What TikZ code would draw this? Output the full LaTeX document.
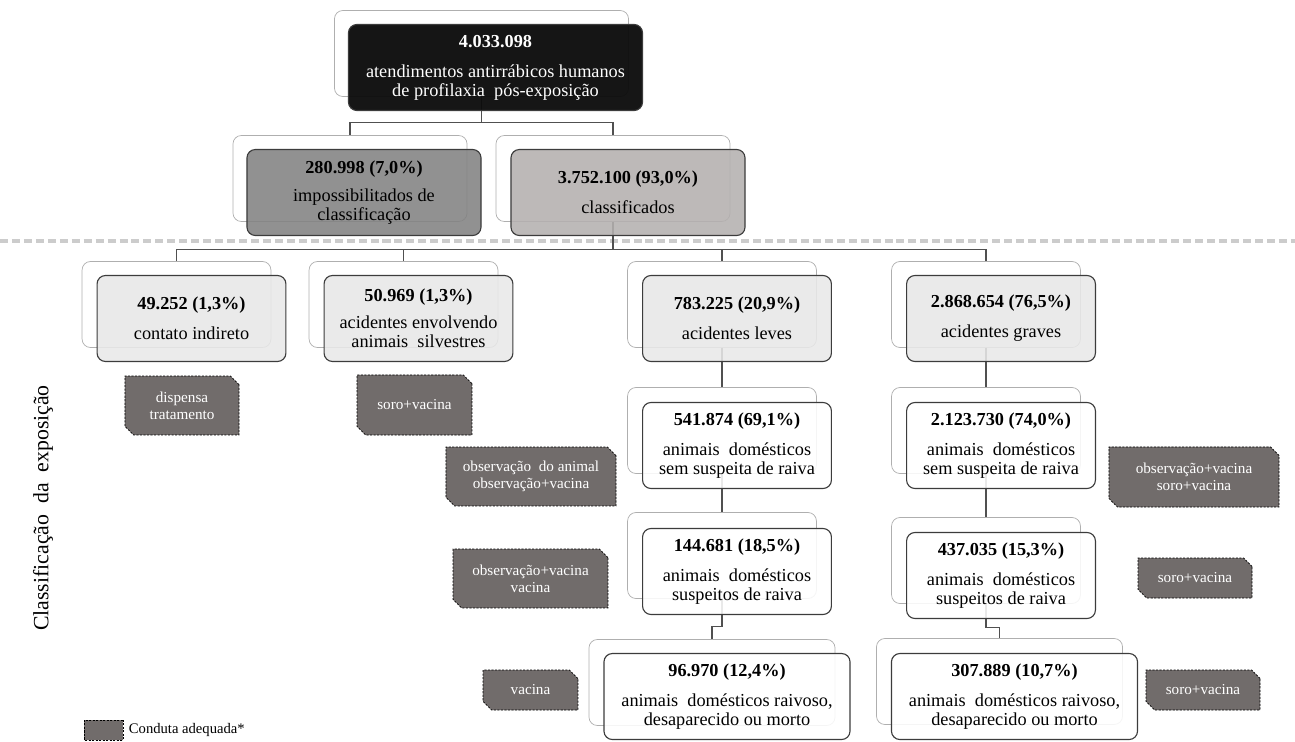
\documentclass[tikz,border=0pt]{standalone}
\usepackage{fontspec}
\setmainfont{Liberation Serif}
\usetikzlibrary{shapes.misc,positioning}

\definecolor{framegray}{RGB}{175,175,175}
\definecolor{boxline}{RGB}{60,60,60}
\definecolor{linegray}{RGB}{80,80,80}
\definecolor{snipgray}{RGB}{113,108,107}
\definecolor{topfill}{RGB}{12,12,12}
\definecolor{midfill}{RGB}{130,130,130}
\definecolor{lightfill}{RGB}{180,176,175}
\definecolor{palefill}{RGB}{232,232,232}

\tikzstyle{frame}=[draw=framegray, fill=white, rounded corners=6pt, inner sep=0pt, line width=0.5pt, minimum height=2.15cm]
\tikzstyle{box}=[draw=boxline, rounded corners=6pt, inner sep=0pt, line width=0.8pt, minimum height=2.15cm, fill opacity=0.88, text opacity=1, align=center, font=\fontsize{13}{13.5}\selectfont]
\tikzstyle{snip}=[chamfered rectangle, chamfered rectangle corners={north east,south west}, chamfered rectangle xsep=3pt, inner sep=0pt, draw=black, line width=0.5pt, dash pattern=on 1.5pt off 1pt, fill=snipgray, text=white, align=center, font=\fontsize{10.8}{12}\selectfont]
\tikzstyle{link}=[draw=linegray, line width=0.8pt]
\tikzstyle{wA}=[minimum width=7.35cm]
\tikzstyle{wB}=[minimum width=5.85cm]
\tikzstyle{wC}=[minimum width=4.72cm]
\tikzstyle{wD}=[minimum width=6.15cm]

\begin{document}
\begin{tikzpicture}[x=0.025cm,y=-0.025cm]
\useasboundingbox (0,0) rectangle (1295,742);

% frames behind the boxes
\node [frame,wA] (f0) at (481.5,53.5) {};
\node [frame,wB] (f1) at (350,178.5) {};
\node [frame,wB] (f2) at (613,178.5) {};
\node [frame,wC] (f3) at (176.5,304.5) {};
\node [frame,wC] (f4) at (403.5,304.5) {};
\node [frame,wC] (f5) at (722,304.5) {};
\node [frame,wC] (f6) at (986,304.5) {};
\node [frame,wC] (f7) at (722,430.5) {};
\node [frame,wC] (f8) at (986,430.5) {};
\node [frame,wC] (f9) at (722,555.5) {};
\node [frame,wC] (f10) at (986,560.5) {};
\node [frame,wD] (f11) at (712,682.5) {};
\node [frame,wD] (f12) at (999.5,681.5) {};

\draw [gray!40, line width=2.2pt, dash pattern=on 5.7pt off 2.8pt] (0,241) -- (1295,241);

\draw [link] (f0.south) -- ++(0,26) coordinate (j0)
	(j0) -| (f1.north) (j0) -| (f2.north);
\draw [link] (f2.south) -- ++(0,28) coordinate (j1)
	(j1) -| (f3.north) (j1) -| (f4.north)
	(j1) -| (f5.north) (j1) -| (f6.north);
\path [link]
		(f5) edge (f7) (f7) edge (f9)
		(f6) edge (f8) (f8) edge (f10);
\draw [link] (f9.south) -- ++(0,28) -| (f11.north);
\draw [link] (f10.south) -- ++(0,24) -| (f12.north);

% boxes
\node [box,wA,fill=topfill,fill opacity=0.96,text=white] (b0) at ([shift={(14,14)}]f0) {\textbf{4.033.098}\\[8pt]atendimentos antirrábicos humanos\\de profilaxia~ pós-exposição};
\node [box,wB,fill=midfill] (b1) at ([shift={(14,14)}]f1) {\textbf{280.998 (7,0\%)}\\[6pt]impossibilitados de\\classificação};
\node [box,wB,fill=lightfill] (b2) at ([shift={(15,14)}]f2) {\textbf{3.752.100 (93,0\%)}\\[8pt]classificados};
\node [box,wC,fill=palefill] (b3) at ([shift={(15,14)}]f3) {\textbf{49.252 (1,3\%)}\\[8pt]contato indireto};
\node [box,wC,fill=palefill] (b4) at ([shift={(15,14)}]f4) {\textbf{50.969 (1,3\%)}\\[6pt]acidentes envolvendo\\animais~ silvestres};
\node [box,wC,fill=palefill] (b5) at ([shift={(15,14)}]f5) {\textbf{783.225 (20,9\%)}\\[8pt]acidentes leves};
\node [box,wC,fill=palefill] (b6) at ([shift={(15,14)}]f6) {\textbf{2.868.654 (76,5\%)}\\[8pt]acidentes graves};
\node [box,wC,fill=white] (b7) at ([shift={(15,15)}]f7) {\textbf{541.874 (69,1\%)}\\[8pt]animais~ domésticos\\sem suspeita de raiva};
\node [box,wC,fill=white] (b8) at ([shift={(15,15)}]f8) {\textbf{2.123.730 (74,0\%)}\\[8pt]animais~ domésticos\\sem suspeita de raiva};
\node [box,wC,fill=white] (b9) at ([shift={(15,16)}]f9) {\textbf{144.681 (18,5\%)}\\[8pt]animais~ domésticos\\suspeitos de raiva};
\node [box,wC,fill=white] (b10) at ([shift={(15,15)}]f10) {\textbf{437.035 (15,3\%)}\\[8pt]animais~ domésticos\\suspeitos de raiva};
\node [box,wD,fill=white] (b11) at ([shift={(15,14)}]f11) {\textbf{96.970 (12,4\%)}\\[8pt]animais~ domésticos raivoso,\\desaparecido ou morto};
\node [box,wD,fill=white] (b12) at ([shift={(15,15)}]f12) {\textbf{307.889 (10,7\%)}\\[8pt]animais~ domésticos raivoso,\\desaparecido ou morto};

% conduta
\node [snip,minimum width=2.85cm,minimum height=1.47cm] (s1) at (182,405.5) {dispensa\\tratamento};
\node [snip,minimum width=2.87cm,minimum height=1.5cm] (s2) at (414.5,405) {soro+vacina};
\node [snip,minimum width=4.25cm,minimum height=1.47cm] (s3) at (531,476.5) {observação~ do animal\\observação+vacina};
\node [snip,minimum width=4.25cm,minimum height=1.5cm] (s4) at (1194,477) {observação+vacina\\soro+vacina};
\node [snip,minimum width=3.87cm,minimum height=1.47cm] (s5) at (530.5,578.5) {observação+vacina\\vacina};
\node [snip,minimum width=2.85cm,minimum height=1cm] (s6) at (1195,578) {soro+vacina};
\node [snip,minimum width=2.37cm,minimum height=1cm] (s7) at (530.5,690) {vacina};
\node [snip,minimum width=2.85cm,minimum height=1cm] (s8) at (1203,690) {soro+vacina};

\node [rotate=90,font=\fontsize{15.5}{16}\selectfont] (axis) at (43,508) {Classificação~ da~ exposição};

\node [snip,chamfered rectangle xsep=1.5pt,minimum width=0.97cm,minimum height=0.5cm] (key) at (103.5,730) {};
\node [right=0.1cm of key,inner sep=1pt,font=\fontsize{10.4}{12}\selectfont] (keytext) {Conduta adequada*};

\end{tikzpicture}
\end{document}
